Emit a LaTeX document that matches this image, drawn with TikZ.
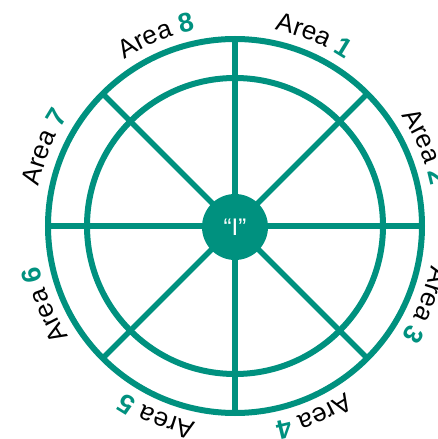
\documentclass[tikz,border=0pt]{standalone}
\usepackage{fontspec}
\setmainfont{Liberation Sans}
\usetikzlibrary{decorations.text}
\definecolor{wheel}{RGB}{0,145,127}
\begin{document}
\begin{tikzpicture}[
  ring/.style={circle,draw=wheel,line width=6pt,inner sep=0pt,outer sep=0pt},
  spoke/.style={draw=wheel,line width=5.5pt},
  hub/.style={circle,fill=wheel,inner sep=0pt,outer sep=0pt,minimum size=66pt,text=white,font=\fontsize{24}{24}\selectfont},
  arealabel/.style={decorate,decoration={text along path,text align=center,
     text={|\fontsize{26}{26}\selectfont\color{black}|Area |\fontsize{27}{27}\selectfont\bfseries\color{wheel}|#1}}}
]
\path[use as bounding box,clip] (-235pt,-213pt) rectangle (202pt,226pt);
\node[ring,minimum size=374pt] (outer) at (0,0) {};
\node[ring,minimum size=296pt] (inner) at (0,0) {};
\foreach \a in {0,45,90,135}{
  \pgfmathtruncatemacro\b{\a+180}
  \draw[spoke] (outer.\a) -- (outer.\b);
}
\node[hub] (hub) at (0,-1pt) {“I”};
\foreach \n/\t in {1/67.5,2/22.5,3/-22.5,4/-67.5,5/-112.5,6/-157.5,7/157.5,8/112.5}{
  \path[arealabel=\n] (\t+30:200pt) arc[start angle=\t+30, end angle=\t-30, radius=200pt];
}
\end{tikzpicture}
\end{document}
